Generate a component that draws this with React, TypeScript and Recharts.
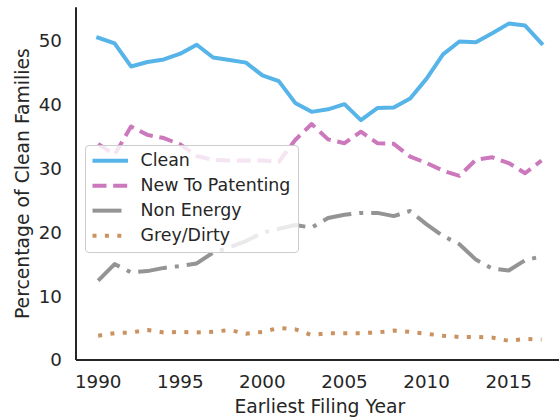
import React from 'react';
import { LineChart, Line, XAxis, YAxis, Legend } from 'recharts';

const years = [1990, 1991, 1992, 1993, 1994, 1995, 1996, 1997, 1998, 1999, 2000, 2001, 2002, 2003, 2004, 2005, 2006, 2007, 2008, 2009, 2010, 2011, 2012, 2013, 2014, 2015, 2016, 2017];
const clean = [50.4, 49.5, 45.9, 46.6, 47.0, 47.9, 49.3, 47.3, 46.9, 46.5, 44.5, 43.6, 40.2, 38.8, 39.2, 40.0, 37.5, 39.4, 39.5, 40.9, 44.0, 47.8, 49.8, 49.7, 51.1, 52.6, 52.3, 49.5];
const newToPatenting = [33.8, 32.1, 36.5, 35.2, 34.7, 33.7, 31.9, 31.3, 31.2, 31.2, 31.2, 31.0, 34.4, 36.9, 34.5, 33.9, 35.7, 33.9, 33.8, 31.8, 30.8, 29.6, 28.8, 31.3, 31.7, 30.8, 29.2, 31.2];
const nonEnergy = [12.4, 15.0, 13.7, 13.9, 14.4, 14.7, 15.1, 16.8, 17.6, 18.6, 19.9, 20.5, 21.1, 20.7, 22.2, 22.7, 23.0, 23.0, 22.5, 23.3, 21.2, 19.4, 18.1, 15.7, 14.3, 14.0, 15.6, 16.2];
const greyDirty = [3.8, 4.2, 4.3, 4.7, 4.3, 4.4, 4.3, 4.4, 4.7, 4.1, 4.4, 5.0, 4.8, 3.9, 4.2, 4.2, 4.2, 4.3, 4.6, 4.4, 4.1, 3.8, 3.6, 3.6, 3.5, 3.0, 3.3, 3.2];

const xTicks = [1990, 1995, 2000, 2005, 2010, 2015];
const yTicks = [0, 10, 20, 30, 40, 50];

const seriesNames = ['Clean', 'New To Patenting', 'Non Energy', 'Grey/Dirty'];
const seriesKeys = ['clean', 'ntp', 'nonEnergy', 'grey'];
const seriesColors = ['#56B4E9', '#CC78BC', '#949494', '#CA9161'];
const seriesDash = ['', '14 6.7', '29 8 4 8', '4 8.4'];
const seriesCap: ('square' | 'butt')[] = ['square', 'butt', 'butt', 'butt'];

const data = years.map((y, i) => ({
  year: y,
  clean: clean[i],
  ntp: newToPatenting[i],
  nonEnergy: nonEnergy[i],
  grey: greyDirty[i],
}));

const TEXT = '#262626';
const FONT = "'DejaVu Sans', sans-serif";

const LegendBox = () => (
  <div
    style={{
      boxSizing: 'border-box',
      width: 214,
      height: 108,
      background: 'rgba(255,255,255,0.8)',
      border: '1px solid #cccccc',
      borderRadius: 4,
      paddingTop: 1.5,
      fontFamily: FONT,
      fontSize: 17.4,
      color: TEXT,
    }}
  >
    {seriesNames.map((name, i) => (
      <div key={name} style={{ position: 'relative', height: 25.3, lineHeight: '25.3px' }}>
        <svg width={50} height={25.3} style={{ position: 'absolute', left: 0, top: 0 }}>
          <line
            x1={i === 0 ? 8.5 : 6.5}
            x2={i === 0 ? 40 : 42}
            y1={12.65}
            y2={12.65}
            stroke={seriesColors[i]}
            strokeWidth={4}
            strokeDasharray={seriesDash[i] || undefined}
            strokeLinecap={seriesCap[i]}
          />
        </svg>
        <span style={{ position: 'absolute', left: 54.5, top: 0, whiteSpace: 'nowrap' }}>{name}</span>
      </div>
    ))}
  </div>
);

export default function App() {
  return (
    <div style={{ position: 'absolute', left: 0, top: 0, width: 559, height: 419, overflow: 'hidden', background: '#fff' }}>
      <LineChart
        width={580}
        height={419}
        data={data}
        margin={{ top: 7.3, right: 16.3, bottom: 0, left: 0 }}
        style={{ fontFamily: FONT }}
      >
        <XAxis
          dataKey="year"
          type="number"
          domain={[1988.65, 2018.35]}
          ticks={xTicks}
          allowDataOverflow
          height={59}
          tickLine={false}
          tickSize={0}
          tickMargin={15}
          axisLine={{ stroke: TEXT, strokeWidth: 2 }}
          tick={{ fill: TEXT, fontSize: 18.3 }}
          label={{ value: 'Earliest Filing Year', position: 'insideBottom', offset: 5.7, fill: TEXT, fontSize: 18.8 }}
        />
        <XAxis
          xAxisId="top"
          orientation="top"
          dataKey="year"
          type="number"
          domain={[1988.65, 2018.35]}
          height={0}
          tick={false}
          tickLine={false}
          axisLine={{ stroke: TEXT, strokeWidth: 2 }}
        />
        <YAxis
          type="number"
          domain={[0, 55.15]}
          ticks={yTicks}
          allowDataOverflow
          width={76}
          tickLine={false}
          tickSize={0}
          tickMargin={14}
          axisLine={{ stroke: TEXT, strokeWidth: 2 }}
          tick={{ fill: TEXT, fontSize: 18.3 }}
          label={{
            value: 'Percentage of Clean Families',
            angle: -90,
            position: 'insideLeft',
            offset: 22.7,
            fill: TEXT,
            fontSize: 18.8,
            style: { textAnchor: 'middle' },
          }}
        />
        {seriesKeys.map((k, i) => (
          <Line
            key={k}
            dataKey={k}
            name={seriesNames[i]}
            type="linear"
            stroke={seriesColors[i]}
            strokeWidth={4}
            strokeDasharray={seriesDash[i] || undefined}
            strokeLinecap={seriesCap[i]}
            strokeLinejoin="round"
            dot={false}
            activeDot={false}
            isAnimationActive={false}
          />
        ))}
        <Legend
          layout="vertical"
          align="center"
          verticalAlign="middle"
          content={() => <LegendBox />}
          wrapperStyle={{ left: 85, top: 145, width: 214, height: 108, margin: 0, padding: 0 }}
        />
      </LineChart>
    </div>
  );
}
